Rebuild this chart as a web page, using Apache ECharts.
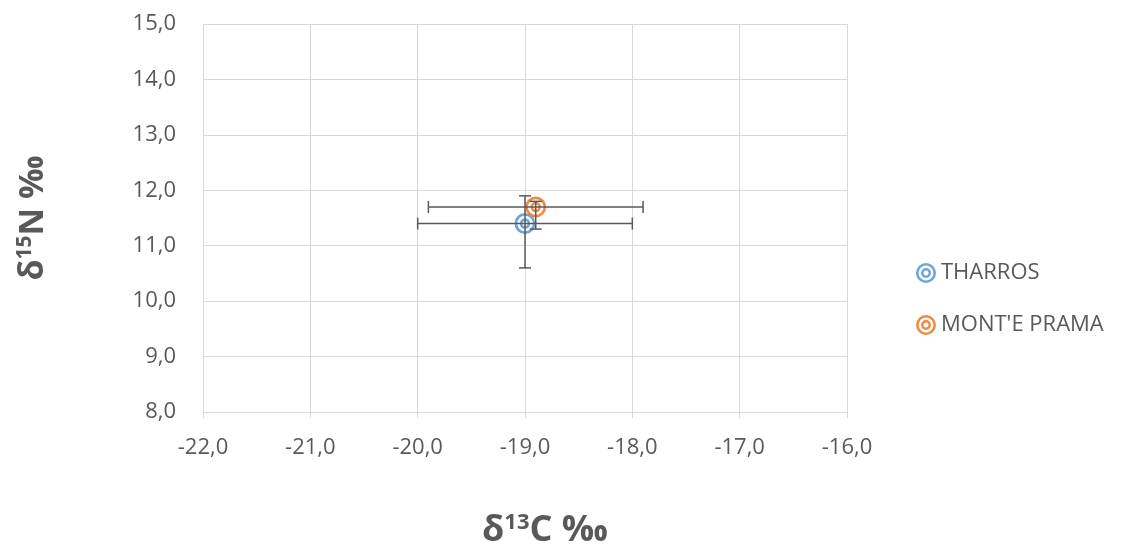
<!DOCTYPE html>
<html><head><meta charset="utf-8">
<script src="https://cdn.jsdelivr.net/npm/echarts@6/dist/echarts.min.js"></script>
<style>html,body{margin:0;padding:0;background:#fff}#c{width:1123px;height:553px}</style>
</head><body><div id="c"></div>
<script>
const seriesNames = ['THARROS', "MONT'E PRAMA"];
const seriesColors = ['#5B9BD5', '#ED7D31'];
const d13C = [-19.0, -18.9];
const d15N = [11.4, 11.7];
const d13CLow = [-20.0, -19.9];
const d13CHigh = [-18.0, -17.9];
const d15NLow = [10.6, 11.3];
const d15NHigh = [11.9, 11.8];
const xTicks = [-22, -21, -20, -19, -18, -17, -16];
const yTicks = [8, 9, 10, 11, 12, 13, 14, 15];

const ring = 'path://M0,10A10,10 0 1,1 20,10A10,10 0 1,1 0,10Z M2.6,10A7.4,7.4 0 1,0 17.4,10A7.4,7.4 0 1,0 2.6,10Z M5,10A5,5 0 1,1 15,10A5,5 0 1,1 5,10Z M7.5,10A2.5,2.5 0 1,0 12.5,10A2.5,2.5 0 1,0 7.5,10Z';
const fmt = v => v.toFixed(1).replace('.', ',');

const chart = echarts.init(document.getElementById('c'), null, {renderer: 'canvas'});
const series = [];
seriesNames.forEach((name, i) => {
  series.push({
    name: name, type: 'scatter', symbol: ring, symbolSize: 21,
    itemStyle: {color: seriesColors[i], opacity: 0.9},
    data: [[d13C[i], d15N[i]]], z: 2
  });
});
const errData = seriesNames.map((n, i) => [d13C[i], d15N[i], d13CLow[i], d13CHigh[i], d15NLow[i], d15NHigh[i]]);
series.push({
  type: 'custom', name: 'err', z: 5, silent: true,
  renderItem: function (params, api) {
    const x = api.value(0), y = api.value(1);
    const pxL = api.coord([api.value(2), y]);
    const pxH = api.coord([api.value(3), y]);
    const pyL = api.coord([x, api.value(4)]);
    const pyH = api.coord([x, api.value(5)]);
    const cap = 6;
    const st = {stroke: '#595959', lineWidth: 1.5};
    const ln = (x1, y1, x2, y2) => ({type: 'line', shape: {x1, y1, x2, y2}, style: st});
    return {type: 'group', children: [
      ln(pxL[0], pxL[1], pxH[0], pxH[1]),
      ln(pxL[0], pxL[1] - cap, pxL[0], pxL[1] + cap),
      ln(pxH[0], pxH[1] - cap, pxH[0], pxH[1] + cap),
      ln(pyL[0], pyL[1], pyH[0], pyH[1]),
      ln(pyL[0] - cap, pyL[1], pyL[0] + cap, pyL[1]),
      ln(pyH[0] - cap, pyH[1], pyH[0] + cap, pyH[1])
    ]};
  },
  data: errData
});

const titleRich = (sz, ssz) => ({
  d: {fontSize: sz, fontWeight: 'bold', color: '#595959', fontFamily: 'Open Sans'},
  s: {fontSize: ssz, fontWeight: 'bold', color: '#595959', verticalAlign: 'top', padding: [0, 0, Math.round(sz * 0.45), 0], fontFamily: 'Open Sans'}
});

chart.setOption({
  animation: false,
  textStyle: {fontFamily: 'Open Sans'},
  grid: {left: 203, right: 276, top: 24, bottom: 141, containLabel: false, outerBoundsMode: 'none'},
  legend: {
    orient: 'vertical', left: 911, top: 257, itemGap: 30,
    itemWidth: 20, itemHeight: 20, itemTextGap: 3,
    data: seriesNames.map((n, i) => ({name: n, icon: ring})),
    textStyle: {fontSize: 22, color: '#595959', fontFamily: 'Open Sans'}
  },
  xAxis: {
    type: 'value', min: xTicks[0], max: xTicks[xTicks.length - 1], interval: 1,
    axisLine: {show: true, lineStyle: {color: '#d9d9d9'}},
    axisTick: {show: true, length: 6, lineStyle: {color: '#d9d9d9'}},
    splitLine: {show: true, lineStyle: {color: '#d9d9d9'}},
    axisLabel: {formatter: fmt, fontSize: 22, color: '#595959', margin: 25},
    name: '{d|δ}{s|13}{d|C ‰}', nameLocation: 'middle', nameGap: 100,
    nameTextStyle: {padding: [0, 0, 0, 40], rich: titleRich(36, 22)}
  },
  yAxis: {
    type: 'value', min: yTicks[0], max: yTicks[yTicks.length - 1], interval: 1,
    axisLine: {show: false}, axisTick: {show: false},
    splitLine: {show: true, lineStyle: {color: '#d9d9d9'}},
    axisLabel: {formatter: fmt, fontSize: 22, color: '#595959', margin: 27},
    name: '{d|δ}{s|15}{d|N ‰}', nameLocation: 'middle', nameGap: 152, nameRotate: 90,
    nameTextStyle: {rich: titleRich(34, 21)}
  },
  series: series
});
</script></body></html>
